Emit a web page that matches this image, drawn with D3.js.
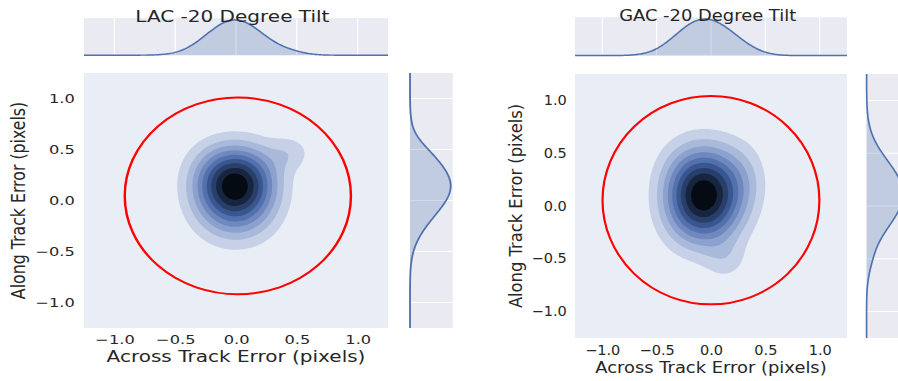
<!DOCTYPE html>
<html>
<head>
<meta charset="utf-8">
<script src="https://cdnjs.cloudflare.com/ajax/libs/d3/7.8.5/d3.min.js"></script>
<style>
  body { margin: 0; background: #fff; }
  svg { display: block; }
  text { font-family: "DejaVu Sans", sans-serif; fill: #262626; }
</style>
</head>
<body>
<svg id="chart" width="898" height="381"></svg>
<script>
// ---- data ----
const tickValues = [-1.0, -0.5, 0.0, 0.5, 1.0];
const axisDomain = [-1.25, 1.25];

const titles = ["LAC -20 Degree Tilt", "GAC -20 Degree Tilt"];
const xLabel = "Across Track Error (pixels)";
const yLabel = "Along Track Error (pixels)";

// error density, as gaussian blobs: [weight, meanX, meanY, sdX, sdY]
const lacBlobs = [
  [0.21, -0.12, 0.28, 0.19, 0.21],
  [0.21, 0.10, 0.28, 0.19, 0.21],
  [0.21, -0.12, 0.04, 0.19, 0.21],
  [0.21, 0.10, 0.04, 0.19, 0.21],
  [0.03, 0.45, 0.47, 0.12, 0.12],
  [0.12, 0.00, -0.22, 0.22, 0.20]
];
const gacBlobs = [
  [0.215, -0.19, 0.25, 0.20, 0.25],
  [0.215, 0.05, 0.25, 0.20, 0.25],
  [0.215, -0.19, -0.05, 0.20, 0.25],
  [0.215, 0.05, -0.05, 0.20, 0.25],
  [0.025, 0.14, -0.52, 0.14, 0.14],
  [0.05, 0.32, 0.25, 0.15, 0.25]
];

// red reference circle: [centerX, centerY, radiusX, radiusY]
const lacCircle = [0.015, 0.045, 0.93, 0.965];
const gacCircle = [0.0, 0.055, 0.997, 0.987];

// contour fill colours, light to dark
const bandColors = ["#c6d0e6", "#a9b9da", "#8ca1cd", "#6f89bf", "#5371ad",
                    "#3a5690", "#283f69", "#172540", "#060a12"];

// ---- layout (native units, then stretched like the picture) ----
const W = 249, H = 265;
const margTop = [-57, -18.5];   // top marginal band
const margRight = [267, 302];   // right marginal band

const svg = d3.select("#chart");

function density(blobs, x, y) {
  let s = 0;
  blobs.forEach(([w, mx, my, sx, sy]) => {
    const dx = (x - mx) / sx, dy = (y - my) / sy;
    s += w / (2 * Math.PI * sx * sy) * Math.exp(-0.5 * (dx * dx + dy * dy));
  });
  return s;
}

function marginal(blobs, v, axis) {
  let s = 0;
  blobs.forEach(b => {
    const m = axis === "x" ? b[1] : b[2];
    const sd = axis === "x" ? b[3] : b[4];
    const d = (v - m) / sd;
    s += b[0] / (Math.sqrt(2 * Math.PI) * sd) * Math.exp(-0.5 * d * d);
  });
  return s;
}

function drawPanel(g, blobs, circle, title) {
  const x = d3.scaleLinear().domain(axisDomain).range([0, W]);
  const y = d3.scaleLinear().domain(axisDomain).range([H, 0]);

  // joint area: lowest band fills everything
  g.append("rect").attr("width", W).attr("height", H).attr("fill", "#e9edf5");

  const n = 120, step = (axisDomain[1] - axisDomain[0]) / n;
  const grid = new Float64Array(n * n);
  for (let j = 0; j < n; j++) {
    for (let i = 0; i < n; i++) {
      grid[j * n + i] = density(blobs, axisDomain[0] + (i + 0.5) * step, axisDomain[0] + (j + 0.5) * step);
    }
  }
  const zmax = d3.max(grid);
  const thresholds = d3.range(1, 10).map(k => k * zmax / 10);
  const contours = d3.contours().size([n, n]).thresholds(thresholds)(grid);
  const proj = d3.geoTransform({
    point(px, py) {
      this.stream.point(x(axisDomain[0] + px * step), y(axisDomain[0] + py * step));
    }
  });
  const path = d3.geoPath(proj);
  g.append("g").selectAll("path")
    .data(contours)
    .join("path")
    .attr("d", path)
    .attr("fill", (d, i) => bandColors[i]);

  g.append("ellipse")
    .attr("cx", x(circle[0]))
    .attr("cy", y(circle[1]))
    .attr("rx", x(circle[2]) - x(0))
    .attr("ry", y(0) - y(circle[3]))
    .attr("fill", "none")
    .attr("stroke", "#ff0000")
    .attr("stroke-width", 2);

  // axes
  const ax = g.append("g").attr("transform", `translate(0,${H})`)
    .call(d3.axisBottom(x).tickValues(tickValues).tickSize(0).tickPadding(7.6).tickFormat(d3.format(".1f")));
  const ay = g.append("g")
    .call(d3.axisLeft(y).tickValues(tickValues).tickSize(0).tickPadding(7.5).tickFormat(d3.format(".1f")));
  [ax, ay].forEach(a => {
    a.select(".domain").remove();
    a.attr("font-size", 13.3).attr("font-family", null);
    a.selectAll("text").attr("fill", "#262626");
  });

  g.append("text").attr("x", W / 2).attr("y", H + 35)
    .attr("text-anchor", "middle").attr("font-size", 16.4).text(xLabel);
  g.append("text").attr("transform", `translate(-48.3,${H / 2}) rotate(-90)`)
    .attr("text-anchor", "middle").attr("font-size", 16.4).text(yLabel);

  // marginal curves
  const xs = d3.range(0, 241).map(i => axisDomain[0] + i * (axisDomain[1] - axisDomain[0]) / 240);
  const fx = xs.map(v => [v, marginal(blobs, v, "x")]);
  const fy = xs.map(v => [v, marginal(blobs, v, "y")]);
  const topY = d3.scaleLinear().domain([0, d3.max(fx, d => d[1]) * 1.05]).range([margTop[1], margTop[0]]);
  const rightX = d3.scaleLinear().domain([0, d3.max(fy, d => d[1]) * 1.05]).range([margRight[0], margRight[1]]);

  const top = g.append("g");
  top.append("rect").attr("y", margTop[0]).attr("width", W).attr("height", margTop[1] - margTop[0]).attr("fill", "#eaeaf2");
  top.selectAll("line").data(tickValues).join("line")
    .attr("x1", d => x(d)).attr("x2", d => x(d))
    .attr("y1", margTop[0]).attr("y2", margTop[1])
    .attr("stroke", "#fff").attr("stroke-width", 1);
  top.append("path").datum(fx)
    .attr("d", d3.area().x(d => x(d[0])).y0(topY(0)).y1(d => topY(d[1])))
    .attr("fill", "#4c72b0").attr("fill-opacity", 0.25);
  top.append("path").datum(fx)
    .attr("d", d3.line().x(d => x(d[0])).y(d => topY(d[1])))
    .attr("fill", "none").attr("stroke", "#4c72b0").attr("stroke-width", 1.5);

  const right = g.append("g");
  right.append("rect").attr("x", margRight[0]).attr("width", margRight[1] - margRight[0]).attr("height", H).attr("fill", "#eaeaf2");
  right.selectAll("line").data(tickValues).join("line")
    .attr("x1", margRight[0]).attr("x2", margRight[1])
    .attr("y1", d => y(d)).attr("y2", d => y(d))
    .attr("stroke", "#fff").attr("stroke-width", 1);
  right.append("path").datum(fy)
    .attr("d", d3.area().y(d => y(d[0])).x0(rightX(0)).x1(d => rightX(d[1])))
    .attr("fill", "#4c72b0").attr("fill-opacity", 0.25);
  right.append("path").datum(fy)
    .attr("d", d3.line().y(d => y(d[0])).x(d => rightX(d[1])))
    .attr("fill", "none").attr("stroke", "#4c72b0").attr("stroke-width", 1.5);

  g.append("text").attr("x", 121.5).attr("y", -53)
    .attr("text-anchor", "middle").attr("font-size", 16.4).text(title);
}

drawPanel(svg.append("g").attr("transform", "translate(84,73) scale(1.221,0.962)"), lacBlobs, lacCircle, titles[0]);
drawPanel(svg.append("g").attr("transform", "translate(575,74) scale(1.092,0.996)"), gacBlobs, gacCircle, titles[1]);
</script>
</body>
</html>
